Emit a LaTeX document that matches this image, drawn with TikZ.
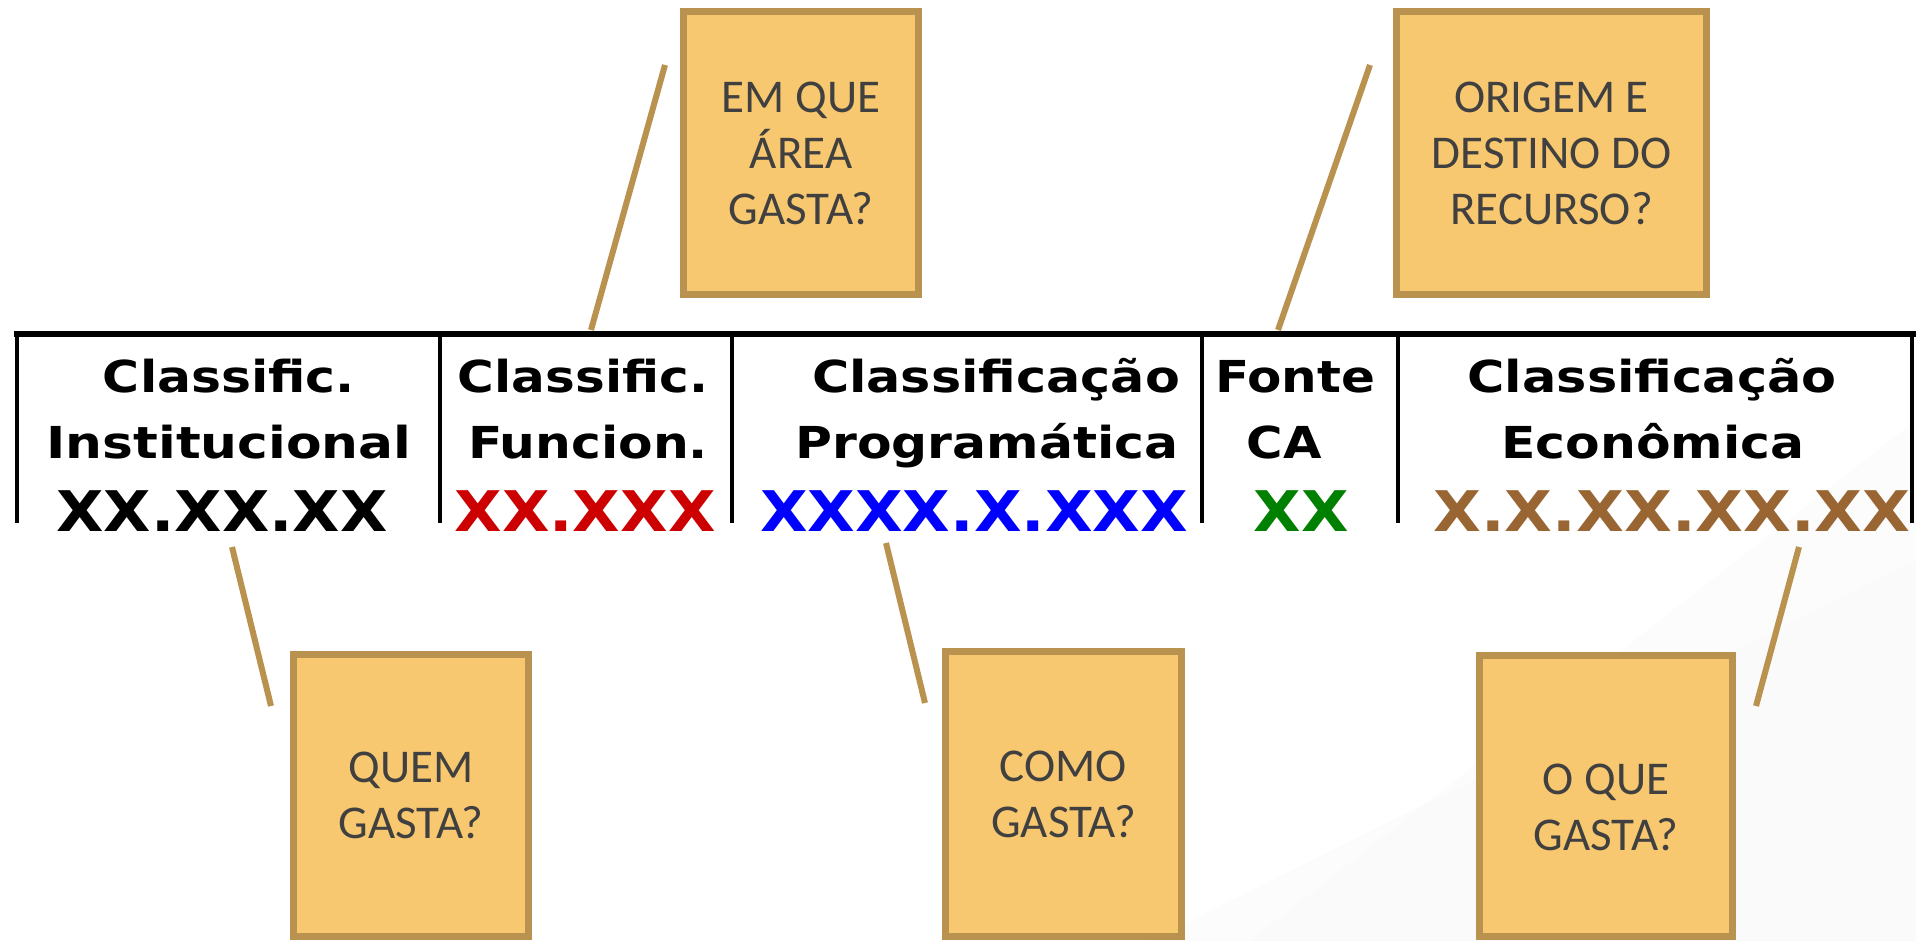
\documentclass[tikz,border=0pt]{standalone}
\usepackage{fontspec}
\usepackage{graphicx}
\setmainfont{Carlito}
\newfontfamily\hdrfont{DejaVu Sans}
\definecolor{boxfill}{HTML}{F8C870}
\definecolor{boxline}{HTML}{B9924F}
\definecolor{qtext}{HTML}{404040}
\definecolor{xred}{HTML}{CC0000}
\definecolor{xblue}{HTML}{0000FF}
\definecolor{xgreen}{HTML}{008000}
\definecolor{xbrown}{HTML}{996633}
\newcommand{\fitw}[2]{\resizebox{#1pt}{\height}{#2}}
\tikzset{
  hdr/.style={anchor=base, inner sep=0pt, font=\hdrfont\bfseries\fontsize{44}{44}\selectfont},
  code/.style={anchor=base, inner sep=0pt, font=\hdrfont\bfseries\fontsize{56}{56}\selectfont},
  qbox/.style={draw=boxline, fill=boxfill, line width=7pt, align=center, text=qtext,
     font=\fontsize{47}{56}\selectfont, inner sep=0pt},
  conn/.style={draw=boxline, line width=6pt},
  rulev/.style={line width=4.5pt, black},
  ruleh/.style={line width=6pt, black}
}
\begin{document}
\begin{tikzpicture}[x=1pt,y=-1pt]
\useasboundingbox (0,0) rectangle (1916,941);
% faint background shading
\fill[black!2] (1150,941) -- (1916,560) -- (1916,941) -- cycle;
\fill[black!1.2] (1250,941) -- (1916,420) -- (1916,560) -- (1150,941) -- cycle;
% table rules
\draw[ruleh] (14,334) -- (1916,334);
\foreach \xx in {17,440,732,1202,1398,1912}{
  \draw[rulev] (\xx,332) -- (\xx,523);
}
% headers
\node[hdr] (h1a) at (229,392) {\fitw{252}{Classific.}};
\node[hdr] (h1b) at (229,458) {\fitw{365}{Institucional}};
\node[code] (c1) at (222,531) {\fitw{331}{XX.XX.XX}};
\node[hdr] (h2a) at (583,392) {\fitw{250}{Classific.}};
\node[hdr] (h2b) at (588,458) {\fitw{240}{Funcion.}};
\node[code,text=xred] (c2) at (585,531) {\fitw{261}{XX.XXX}};
\node[hdr] (h3a) at (996,392) {\fitw{368}{Classificação}};
\node[hdr] (h3b) at (987,458) {\fitw{383}{Programática}};
\node[code,text=xblue] (c3) at (974,531) {\fitw{428}{XXXX.X.XXX}};
\node[hdr] (h4a) at (1295,392) {\fitw{160}{Fonte}};
\node[hdr] (h4b) at (1284,458) {\fitw{75}{CA}};
\node[code,text=xgreen] (c4) at (1301,531) {\fitw{95}{XX}};
\node[hdr] (h5a) at (1652,392) {\fitw{369}{Classificação}};
\node[hdr] (h5b) at (1653,458) {\fitw{303}{Econômica}};
\node[code,text=xbrown] (c5) at (1672,531) {\fitw{477}{X.X.XX.XX.XX}};
% question boxes
\node[qbox, minimum width=235pt, minimum height=283pt] (q1) at (801,153) {EM QUE\\ÁREA\\GASTA?};
\node[qbox, minimum width=310pt, minimum height=283pt] (q2) at (1551.5,153) {ORIGEM E\\DESTINO DO\\RECURSO?};
\node[qbox, minimum width=235pt, minimum height=282pt] (q3) at (411,795.5) {QUEM\\GASTA?};
\node[qbox, minimum width=236pt, minimum height=285pt] (q4) at (1063.5,794) {COMO\\GASTA?};
\node[qbox, minimum width=253pt, minimum height=281pt] (q5) at (1606,796) {\raisebox{-15pt}[\height][\depth]{\begin{tabular}{@{}c@{}}O QUE\\GASTA?\end{tabular}}};
% connectors
\coordinate (a1) at (665,65);   \coordinate (b1) at (591,330);
\coordinate (a2) at (1370,65);  \coordinate (b2) at (1278,330);
\coordinate (a3) at (232,547);  \coordinate (b3) at (271,706);
\coordinate (a4) at (886,543);  \coordinate (b4) at (925,703);
\coordinate (a5) at (1799,547); \coordinate (b5) at (1756,706);
\draw[conn] (a1) -- (b1);
\draw[conn] (a2) -- (b2);
\draw[conn] (a3) -- (b3);
\draw[conn] (a4) -- (b4);
\draw[conn] (a5) -- (b5);
\end{tikzpicture}
\end{document}
